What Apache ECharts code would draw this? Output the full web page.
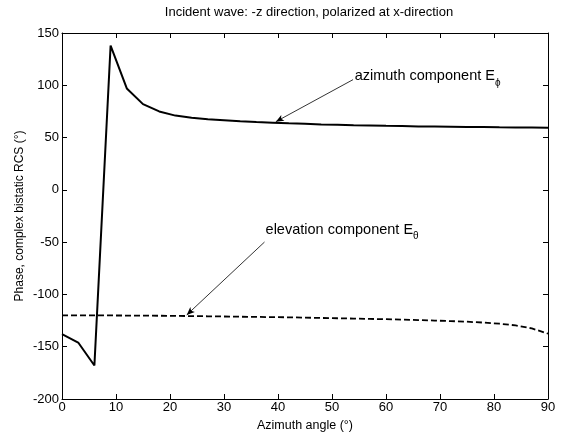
<!DOCTYPE html>
<html>
<head>
<meta charset="utf-8">
<script src="https://cdn.jsdelivr.net/npm/echarts@6/dist/echarts.min.js"></script>
<style>html,body{margin:0;padding:0;background:#fff;}#c{width:580px;height:437px;}</style>
</head>
<body>
<div id="c"></div>
<script>
const angles = [0,3,6,9,12,15,18,21,24,27,30,33,36,39,42,45,48,51,54,57,60,63,66,69,72,75,78,81,84,87,90];
const azimuthPhase = [-138,-146,-168,138,97,82,75,71,69,67.5,66.5,65.5,64.8,64.2,63.6,63.1,62.6,62.2,61.8,61.5,61.2,61,60.7,60.5,60.3,60.1,60,59.8,59.7,59.6,59.4];
const elevationPhase = [-120,-120,-120,-120.1,-120.2,-120.3,-120.4,-120.5,-120.7,-120.9,-121.1,-121.3,-121.5,-121.7,-121.9,-122.2,-122.5,-122.8,-123.1,-123.4,-123.7,-124.1,-124.5,-125,-125.5,-126.1,-126.9,-128,-129.6,-132.5,-137.5];
const xTicks = [0,10,20,30,40,50,60,70,80,90];
const yTicks = [-200,-150,-100,-50,0,50,100,150];
const azArrow = [[53.9,105.4],[39.6,65.2]];
const elArrow = [[37.5,-49.9],[23.1,-119.6]];
const azLabelAt = [54.2,108.5];
const elLabelAt = [37.7,-38.6];

const F = 'Liberation Sans, Arial, sans-serif';
const chart = echarts.init(document.getElementById('c'), null, {renderer:'canvas'});
const axisCommon = {
  axisLine:{show:true,onZero:false,lineStyle:{color:'#000',width:1}},
  axisTick:{show:true,inside:true,length:5,lineStyle:{color:'#000'}},
  splitLine:{show:false}
};
const pairs = (ys) => angles.map((a,i)=>[a,ys[i]]);
chart.setOption({
  animation:false,
  backgroundColor:'#fff',
  title:{text:'Incident wave: -z direction, polarized at x-direction',left:304,top:1,textAlign:'center',
    textStyle:{fontFamily:F,fontSize:13,fontWeight:'normal',color:'#000'}},
  grid:{left:62,right:32,top:33,bottom:32},
  xAxis:[
    Object.assign({type:'value',min:0,max:90,interval:10,position:'bottom',
      name:'Azimuth angle (°)',nameLocation:'middle',nameGap:20,nameMoveOverlap:false,
      nameTextStyle:{fontFamily:F,fontSize:12.5,color:'#000'},
      axisLabel:{fontFamily:F,fontSize:13,color:'#000',margin:2}},axisCommon),
    Object.assign({type:'value',min:0,max:90,interval:10,position:'top',axisLabel:{show:false}},axisCommon)
  ],
  yAxis:[
    Object.assign({type:'value',min:-200,max:150,interval:50,position:'left',
      name:'Phase, complex bistatic RCS (°)',nameLocation:'middle',nameGap:36,nameMoveOverlap:false,
      nameTextStyle:{fontFamily:F,fontSize:12,color:'#000'},
      axisLabel:{fontFamily:F,fontSize:13,color:'#000',margin:3}},axisCommon),
    Object.assign({type:'value',min:-200,max:150,interval:50,position:'right',axisLabel:{show:false}},axisCommon)
  ],
  series:[
    {type:'line',data:pairs(azimuthPhase),showSymbol:false,symbol:'none',
      lineStyle:{color:'#000',width:2},
      markLine:{silent:true,symbol:['none','arrow'],symbolSize:[5,8],
        lineStyle:{color:'#000',width:0.8,type:'solid'},label:{show:false},
        data:[[{coord:azArrow[0]},{coord:azArrow[1]}]]},
      markPoint:{symbol:'circle',symbolSize:0,silent:true,
        data:[{coord:azLabelAt,label:{show:true,position:'right',distance:0,
          formatter:'{a|azimuth component E}{s|ϕ}',
          rich:{a:{fontFamily:F,fontSize:14.5,color:'#000'},s:{fontFamily:F,fontSize:10,color:'#000',padding:[13,0,0,0]}}}}]}
    },
    {type:'line',data:pairs(elevationPhase),showSymbol:false,symbol:'none',
      lineStyle:{color:'#000',width:1.8,type:[6,3]},
      markLine:{silent:true,symbol:['none','arrow'],symbolSize:[5,8],
        lineStyle:{color:'#000',width:0.8,type:'solid'},label:{show:false},
        data:[[{coord:elArrow[0]},{coord:elArrow[1]}]]},
      markPoint:{symbol:'circle',symbolSize:0,silent:true,
        data:[{coord:elLabelAt,label:{show:true,position:'right',distance:0,
          formatter:'{a|elevation component E}{s|θ}',
          rich:{a:{fontFamily:F,fontSize:14.5,color:'#000'},s:{fontFamily:F,fontSize:10,color:'#000',padding:[13,0,0,0]}}}}]}
    }
  ]
});
</script>
</body>
</html>
